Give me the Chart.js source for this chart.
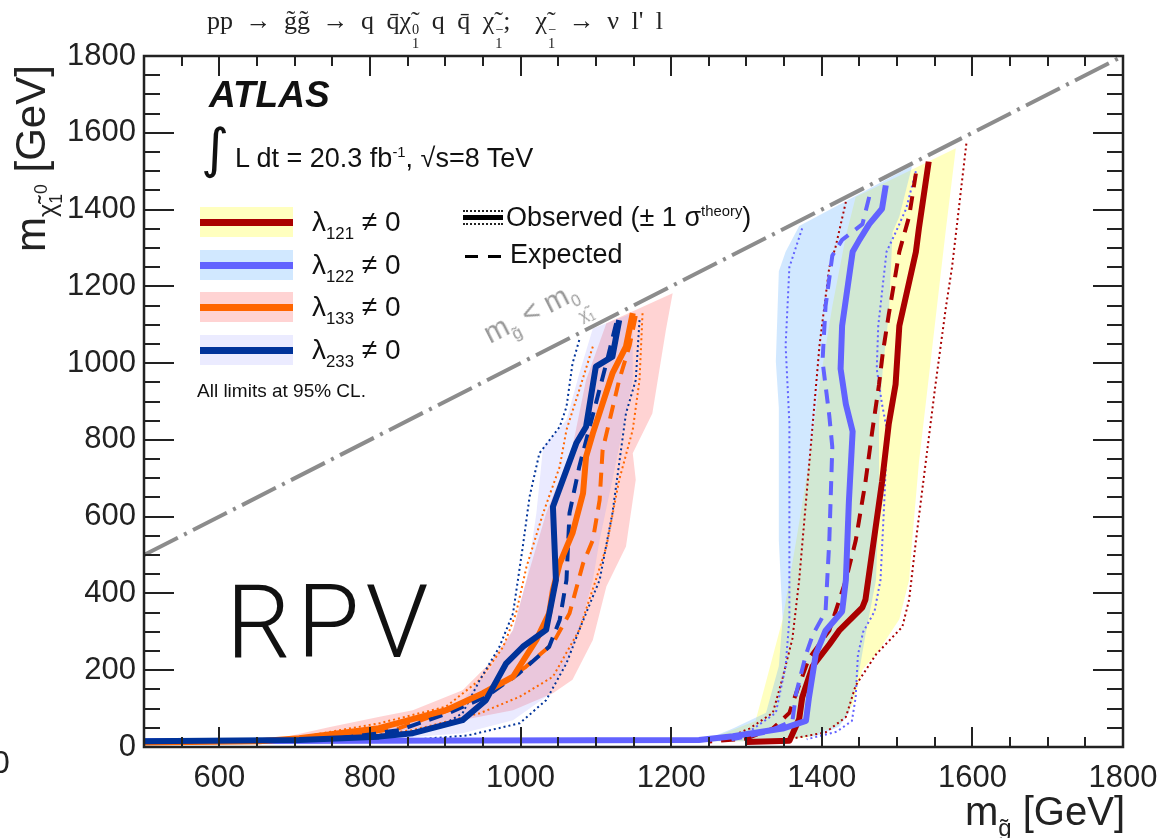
<!DOCTYPE html>
<html><head><meta charset="utf-8">
<script src="https://cdn.jsdelivr.net/npm/chart.js@4.4.1/dist/chart.umd.min.js"></script>
<style>
html,body{margin:0;padding:0;background:#fff;width:1167px;height:838px;overflow:hidden;}
#wrap{position:relative;width:1167px;height:838px;}
canvas{position:absolute;left:0;top:0;}
.t{position:absolute;white-space:nowrap;font-family:"Liberation Sans",Arial,sans-serif;color:#111;line-height:1;}
.ss{display:inline-flex;flex-direction:column;vertical-align:-0.35em;font-size:0.55em;line-height:1.0;text-align:left;margin-left:1px;}
.sub{font-size:0.6em;vertical-align:-0.45em;}
.sup{font-size:0.55em;vertical-align:0.7em;}
.box{position:absolute;}
</style></head>
<body><div id="wrap">
<canvas id="c" width="1167" height="838"></canvas>

<div class="t" style="left:207px;top:8px;font-family:'Liberation Serif',serif;font-size:26px;word-spacing:6px;color:#222;">pp → g̃g̃ → q q̄χ̃<span class="ss"><span>0</span><span>1</span></span> q q̄ χ̃<span class="ss"><span>−</span><span>1</span></span>;&nbsp; χ̃<span class="ss"><span>−</span><span>1</span></span> → ν l' l</div>

<div class="t" style="left:209px;top:76px;font-size:37px;font-weight:bold;font-style:italic;">ATLAS</div>
<div class="t" style="left:201px;top:122px;font-size:54px;font-family:'DejaVu Sans',sans-serif;">∫</div>
<div class="t" style="left:235px;top:145px;font-size:27px;">L dt = 20.3 fb<span class="sup">-1</span>, √s=8 TeV</div>

<div class="box" style="left:200px;top:207px;width:93px;height:30px;background:rgb(255,255,191);"></div>
<div class="box" style="left:200px;top:219px;width:93px;height:7px;background:#aa0000;"></div>
<div class="box" style="left:200px;top:250px;width:93px;height:30px;background:rgb(209,232,255);"></div>
<div class="box" style="left:200px;top:262px;width:93px;height:7px;background:#6262ff;"></div>
<div class="box" style="left:200px;top:292px;width:93px;height:30px;background:rgb(255,211,211);"></div>
<div class="box" style="left:200px;top:304px;width:93px;height:7px;background:#ff6600;"></div>
<div class="box" style="left:200px;top:335px;width:93px;height:30px;background:rgb(235,235,255);"></div>
<div class="box" style="left:200px;top:347px;width:93px;height:7px;background:#00339a;"></div>

<div class="t" style="left:312px;top:208px;font-size:28px;">λ<span class="sub">121</span> ≠ 0</div>
<div class="t" style="left:312px;top:251px;font-size:28px;">λ<span class="sub">122</span> ≠ 0</div>
<div class="t" style="left:312px;top:293px;font-size:28px;">λ<span class="sub">133</span> ≠ 0</div>
<div class="t" style="left:312px;top:336px;font-size:28px;">λ<span class="sub">233</span> ≠ 0</div>
<div class="t" style="left:197px;top:381px;font-size:19px;">All limits at 95% CL.</div>

<div class="box" style="left:463px;top:210px;width:40px;height:0;border-top:2px dotted #222;"></div>
<div class="box" style="left:463px;top:215px;width:40px;height:5px;background:#000;"></div>
<div class="box" style="left:463px;top:223px;width:40px;height:0;border-top:2px dotted #222;"></div>
<div class="t" style="left:506px;top:204px;font-size:27px;">Observed (± 1 σ<span class="sup">theory</span>)</div>
<div class="box" style="left:465px;top:255px;width:13px;height:3px;background:#000;"></div>
<div class="box" style="left:488px;top:255px;width:13px;height:3px;background:#000;"></div>
<div class="t" style="left:510px;top:241px;font-size:27px;">Expected</div>

<div class="t" style="left:490px;top:320px;font-size:29px;color:#999;transform-origin:0 24px;transform:rotate(-27deg);">m<span class="sub">g̃</span> &lt; m<span class="ss"><span>0</span><span>χ̃<sub style="font-size:0.7em">1</sub></span></span></div>

<div class="t" style="left:226px;top:571px;font-size:102px;letter-spacing:6px;font-family:Roboto,'Liberation Sans',sans-serif;font-weight:300;color:#111;">RPV</div>

<div class="t" style="left:-8px;top:746px;font-size:32px;color:#222;">0</div>

<div class="t" style="right:42px;top:791px;font-size:40px;color:#222;">m<span class="sub">g̃</span> [GeV]</div>
<div class="t" style="left:10px;top:252px;font-size:42px;color:#222;transform-origin:0 0;transform:rotate(-90deg);">m<span class="sub">χ̃<sub style="font-size:0.7em">1</sub><sup style="font-size:0.7em">0</sup></span> [GeV]</div>
</div>

<script>
// ---- axis ticks ----
const xTicks = [600, 800, 1000, 1200, 1400, 1600, 1800];
const yTicks = [0, 200, 400, 600, 800, 1000, 1200, 1400, 1600, 1800];

// ---- kinematic boundary m_gluino = m_chi ----
const diagonal = [[500, 500], [1800, 1800]];

// ---- lambda_121 (red / yellow) ----
const obs121 = [[1542,1525],[1529,1351],[1525,1290],[1503,1097],[1498,944],[1489,842],[1480,690],[1458,384],[1454,364],[1423,303],[1410,267],[1388,211],[1374,129],[1370,73],[1357,16],[1300,13]];
const exp121 = [[1525,1494],[1516,1382],[1503,1290],[1489,1127],[1481,1026],[1476,944],[1467,822],[1458,690],[1445,537],[1432,435],[1410,303],[1383,231],[1366,140],[1357,89],[1335,48],[1300,22],[1250,14]];
const thUp121 = [[1592,1572],[1573,1250],[1565,1148],[1551,944],[1538,741],[1525,537],[1516,384],[1507,313],[1472,241],[1445,160],[1432,78],[1405,38],[1350,18]];
const thDn121 = [[1432,1420],[1418,1300],[1410,1250],[1397,1046],[1388,842],[1379,639],[1370,435],[1361,282],[1348,180],[1335,89],[1304,48],[1270,20]];
const band121Lo = [[1445,1433],[1432,1331],[1414,1148],[1397,944],[1383,741],[1366,537],[1348,333],[1326,170],[1312,68],[1273,38],[1240,15]];
const band121Hi = [[1578,1560],[1565,1351],[1556,1199],[1547,1046],[1538,893],[1529,741],[1520,537],[1516,435],[1503,333],[1476,252],[1454,201],[1441,109],[1423,58],[1380,25],[1300,15]];

// ---- lambda_122 (blue / light blue) ----
const obs122 = [[1485,1463],[1480,1402],[1463,1362],[1450,1321],[1441,1290],[1427,1097],[1425,985],[1432,893],[1441,822],[1436,639],[1432,435],[1427,353],[1405,303],[1392,241],[1383,129],[1379,68],[1348,48],[1282,28],[1237,18],[500,15]];
const exp122 = [[1463,1433],[1454,1362],[1427,1321],[1414,1280],[1405,1148],[1401,1005],[1410,863],[1414,781],[1410,537],[1405,353],[1388,292],[1379,241],[1366,140],[1361,68],[1326,38],[1280,20]];
const thUp122 = [[1525,1500],[1512,1402],[1498,1340],[1486,1290],[1475,1097],[1473,985],[1480,893],[1487,822],[1483,639],[1478,435],[1470,353],[1455,300],[1448,240],[1445,129],[1440,68],[1420,40],[1380,20]];
const thDn122 = [[1374,1351],[1357,1250],[1352,1046],[1357,842],[1357,537],[1357,333],[1352,211],[1339,89],[1300,35],[1260,18]];
const band122Lo = [[1370,1357],[1352,1290],[1343,1239],[1339,1005],[1343,883],[1343,537],[1348,333],[1343,211],[1326,89],[1282,48],[1250,22],[1230,15]];
const band122Hi = [[1520,1514],[1503,1382],[1494,1341],[1489,1127],[1481,985],[1476,842],[1476,639],[1472,435],[1458,292],[1450,201],[1436,89],[1423,53],[1392,28],[1300,15]];

// ---- lambda_133 (orange / pink) ----
const obs133 = [[1149,1130],[1140,1043],[1122,973],[1096,817],[1087,756],[1083,661],[1069,557],[1052,478],[1043,409],[1038,348],[1021,279],[990,183],[950,140],[901,96],[812,49],[706,23],[653,15],[500,12]];
const exp133 = [[1153,1123],[1145,1047],[1131,956],[1109,774],[1105,643],[1096,539],[1083,478],[1065,348],[1043,270],[1007,209],[963,148],[905,96],[839,49],[746,23],[650,14]];
const thUp133 = [[1162,1130],[1158,956],[1149,826],[1131,696],[1114,522],[1100,435],[1078,305],[1043,183],[999,131],[946,88],[857,44],[760,20]];
const thDn133 = [[1096,1043],[1078,930],[1061,826],[1052,730],[1030,609],[1008,470],[994,348],[977,261],[946,175],[901,105],[813,62],[720,30],[680,18]];
const band133Lo = [[1114,1104],[1087,956],[1069,782],[1034,609],[1008,435],[990,305],[959,218],[923,148],[857,96],[813,79],[747,52],[680,23],[650,15]];
const band133Hi = [[1202,1182],[1193,1086],[1175,869],[1149,765],[1153,696],[1140,522],[1114,418],[1096,279],[1069,175],[1043,140],[990,96],[901,62],[813,31],[707,16]];

// ---- lambda_233 (dark blue / lavender) ----
const obs233 = [[1131,1112],[1122,1017],[1100,991],[1087,834],[1074,791],[1043,626],[1047,435],[1034,305],[1003,261],[981,218],[954,122],[923,70],[857,36],[812,27],[706,18],[500,15]];
const exp233 = [[1127,1104],[1114,1000],[1078,730],[1065,609],[1061,435],[1052,331],[1038,261],[998,192],[954,131],[905,89],[839,44],[733,18],[600,14]];
const thUp233 = [[1158,1112],[1153,956],[1140,869],[1122,609],[1105,435],[1078,305],[1061,218],[1034,122],[999,62],[930,30],[850,18]];
const thDn233 = [[1078,1060],[1069,999],[1061,886],[1052,834],[1025,765],[1012,652],[1003,522],[990,348],[972,261],[946,175],[923,88],[893,53],[820,30],[700,17]];
const band233Lo = [[1096,1090],[1078,973],[1061,852],[1030,782],[1021,609],[1008,435],[990,305],[959,201],[923,122],[879,79],[813,44],[720,20]];
const band233Hi = [[1149,1130],[1149,956],[1131,782],[1122,696],[1105,539],[1096,435],[1078,305],[1061,218],[1034,131],[990,70],[923,36],[820,20]];

const toXY = pts => pts.map(p => ({x: p[0], y: p[1]}));
function lineDS(pts, color, width, dash, order) {
  return {data: toXY(pts), borderColor: color, borderWidth: width, borderDash: dash,
          fill: false, pointRadius: 0, tension: 0, order: order,
          borderCapStyle: 'butt', borderJoinStyle: 'round'};
}
function bandDS(lo, hi, color, order) {
  return {data: toXY(lo.concat(hi.slice().reverse())), borderWidth: 0,
          borderColor: 'rgba(0,0,0,0)', backgroundColor: color, fill: 'shape',
          pointRadius: 0, tension: 0, order: order};
}

const RED = '#aa0000', BLUE = '#6262ff', ORANGE = '#ff6600', DBLUE = '#00339a';
const DOT = [2, 3], DASH = [14, 9];

const datasets = [
  bandDS(band121Lo, band121Hi, 'rgba(255,255,0,0.25)', 49),
  bandDS(band122Lo, band122Hi, 'rgba(102,178,255,0.3)', 48),
  bandDS(band133Lo, band133Hi, 'rgba(255,80,80,0.25)', 47),
  bandDS(band233Lo, band233Hi, 'rgba(150,150,255,0.2)', 46),
  lineDS(thUp121, RED, 2, DOT, 35), lineDS(thDn121, RED, 2, DOT, 35),
  lineDS(thUp122, BLUE, 2, DOT, 34), lineDS(thDn122, BLUE, 2, DOT, 34),
  lineDS(thUp133, ORANGE, 2, DOT, 33), lineDS(thDn133, ORANGE, 2, DOT, 33),
  lineDS(thUp233, DBLUE, 2, DOT, 32), lineDS(thDn233, DBLUE, 2, DOT, 32),
  lineDS(exp121, RED, 4, DASH, 25), lineDS(exp122, BLUE, 4, DASH, 24),
  lineDS(exp133, ORANGE, 4, DASH, 23), lineDS(exp233, DBLUE, 4, DASH, 22),
  lineDS(obs121, RED, 6, [], 14), lineDS(obs122, BLUE, 6, [], 13),
  lineDS(obs133, ORANGE, 6, [], 12), lineDS(obs233, DBLUE, 6, [], 11),
  lineDS(diagonal, '#8c8c8c', 4, [38, 7, 3, 7], 1)
];

const frameTicks = {
  id: 'frameTicks',
  afterDraw(chart) {
    const {ctx, chartArea: a, scales: {x, y}} = chart;
    ctx.save();
    ctx.strokeStyle = '#222';
    ctx.lineWidth = 2;
    ctx.beginPath();
    for (let v = 500; v <= 1800; v += 50) {
      const px = Math.round(x.getPixelForValue(v));
      const L = (v % 200 === 0) ? 20 : 10;
      ctx.moveTo(px, a.bottom); ctx.lineTo(px, a.bottom - L);
      ctx.moveTo(px, a.top); ctx.lineTo(px, a.top + L);
    }
    for (let v = 0; v <= 1800; v += 50) {
      const py = Math.round(y.getPixelForValue(v));
      const L = (v % 200 === 0) ? 30 : 16;
      ctx.moveTo(a.left, py); ctx.lineTo(a.left + L, py);
      ctx.moveTo(a.right, py); ctx.lineTo(a.right - L, py);
    }
    ctx.stroke();
    ctx.lineWidth = 2.5;
    ctx.strokeRect(a.left, a.top, a.right - a.left, a.bottom - a.top);
    ctx.restore();
  }
};

const tickFont = {family: "'Liberation Sans', Arial, sans-serif", size: 31};
const plain = v => String(v);

new Chart(document.getElementById('c'), {
  type: 'line',
  data: {datasets: datasets},
  options: {
    responsive: false, animation: false, devicePixelRatio: 1,
    layout: {padding: {left: 0, right: 44, top: 56, bottom: 0}},
    plugins: {legend: {display: false}, tooltip: {enabled: false}, title: {display: false}},
    scales: {
      x: {type: 'linear', min: 500, max: 1800,
          grid: {display: false}, border: {display: false},
          afterBuildTicks: s => { s.ticks = xTicks.map(v => ({value: v})); },
          afterFit: s => { s.height = 91; },
          ticks: {font: tickFont, color: '#222', padding: 5, maxRotation: 0, autoSkip: false, callback: plain}},
      y: {type: 'linear', min: 0, max: 1800,
          grid: {display: false}, border: {display: false},
          afterBuildTicks: s => { s.ticks = yTicks.map(v => ({value: v})); },
          afterFit: s => { s.width = 144; },
          ticks: {font: tickFont, color: '#222', padding: 0, autoSkip: false, callback: plain}}
    }
  },
  plugins: [frameTicks]
});
</script>
</body></html>
